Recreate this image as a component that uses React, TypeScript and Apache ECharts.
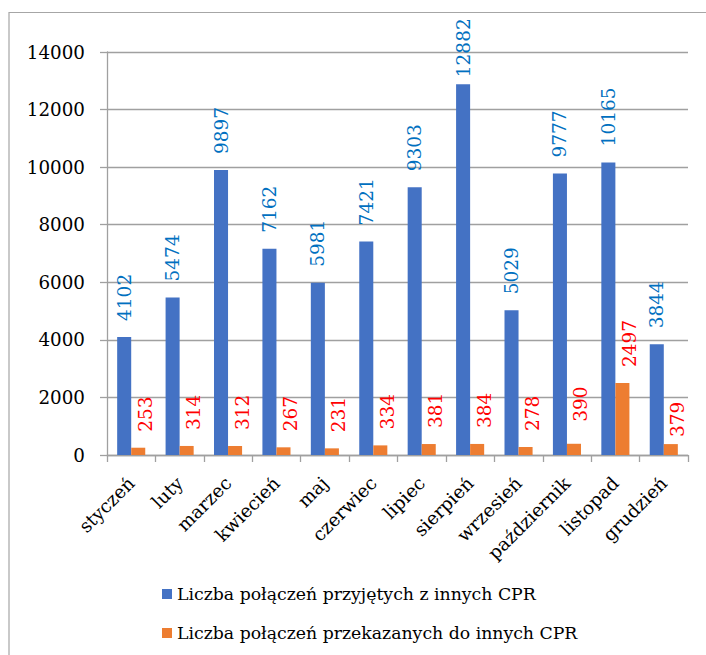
import React, { useEffect, useRef } from 'react';
import * as echarts from 'echarts';

const categories = ['styczeń', 'luty', 'marzec', 'kwiecień', 'maj', 'czerwiec', 'lipiec', 'sierpień', 'wrzesień', 'październik', 'listopad', 'grudzień'];
const received = [4102, 5474, 9897, 7162, 5981, 7421, 9303, 12882, 5029, 9777, 10165, 3844];
const transferred = [253, 314, 312, 267, 231, 334, 381, 384, 278, 390, 2497, 379];
const seriesNames = ['Liczba połączeń przyjętych z innych CPR', 'Liczba połączeń przekazanych do innych CPR'];

// label distance overrides (style only)
const receivedLabelDistance: Record<number, number> = { 7: 7 };
const transferredLabelDistance: Record<number, number> = { 9: 22, 11: 7 };

const FONT = 'DejaVu Serif';

export default function App() {
  const ref = useRef<HTMLDivElement>(null);
  useEffect(() => {
    if (!ref.current) return;
    const chart = echarts.init(ref.current, null, { renderer: 'svg' });
    const labelBase = {
      show: true,
      position: 'top',
      rotate: 90,
      align: 'left',
      verticalAlign: 'middle',
      distance: 16,
      fontSize: 18.5,
      fontFamily: FONT,
    };
    chart.setOption({
      animation: false,
      backgroundColor: '#ffffff',
      textStyle: { fontFamily: FONT },
      graphic: [
        {
          type: 'rect',
          shape: { x: 9, y: 12.5, width: 800, height: 800 },
          style: { fill: 'none', stroke: '#a6a6a6', lineWidth: 1.2 },
          silent: true,
        },
      ],
      grid: { left: 107, right: 18, top: 52, bottom: 200, containLabel: false },
      legend: {
        orient: 'vertical',
        left: 157,
        top: 577,
        itemWidth: 10,
        itemHeight: 10,
        itemGap: 15,
        icon: 'rect',
        textStyle: { fontSize: 17.3, fontFamily: FONT, color: '#000', lineHeight: 24 },
        data: seriesNames,
      },
      xAxis: {
        type: 'category',
        data: categories,
        boundaryGap: true,
        axisLine: { show: true, lineStyle: { color: '#a0a0a0', width: 1.3 } },
        axisTick: { show: true, length: 7, alignWithLabel: false, lineStyle: { color: '#a0a0a0', width: 1.3 } },
        axisLabel: {
          rotate: 45,
          interval: 0,
          margin: 25,
          padding: [11, 0, 0, 0],
          fontSize: 18.3,
          fontFamily: FONT,
          color: '#000',
        },
      },
      yAxis: {
        type: 'value',
        min: 0,
        max: 14000,
        interval: 2000,
        axisLine: { show: true, lineStyle: { color: '#a0a0a0', width: 1.3 } },
        axisTick: { show: true, length: 7, lineStyle: { color: '#a0a0a0', width: 1.3 } },
        splitLine: { show: true, lineStyle: { color: '#a0a0a0', width: 1.3 } },
        axisLabel: { margin: 22, fontSize: 18.3, fontFamily: FONT, color: '#000', formatter: (v: number) => String(v) },
      },
      series: [
        {
          name: seriesNames[0],
          type: 'bar',
          barGap: '0%',
          barCategoryGap: '42%',
          itemStyle: { color: '#4472C4' },
          label: { ...labelBase, color: '#0070C0' },
          data: received.map((v, i) =>
            receivedLabelDistance[i] !== undefined ? { value: v, label: { distance: receivedLabelDistance[i] } } : v
          ),
        },
        {
          name: seriesNames[1],
          type: 'bar',
          barGap: '0%',
          barCategoryGap: '42%',
          itemStyle: { color: '#ED7D31' },
          label: { ...labelBase, color: '#FF0000', offset: [0, 7] },
          data: transferred.map((v, i) =>
            transferredLabelDistance[i] !== undefined ? { value: v, label: { distance: transferredLabelDistance[i] } } : v
          ),
        },
      ],
    });
    return () => chart.dispose();
  }, []);
  return <div ref={ref} style={{ position: 'fixed', left: 0, top: 0, width: 706, height: 655 }} />;
}
